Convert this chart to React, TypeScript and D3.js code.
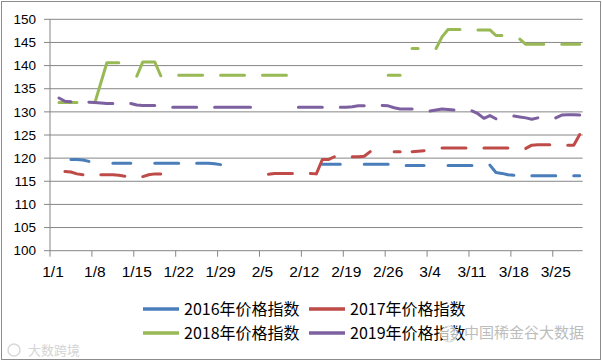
import * as d3 from "d3";
import React from "react";

const _ = null;

// categories are month/day of a leap year, 1/1 .. 3/29
const categories = d3.timeDay
  .range(new Date(2016, 0, 1), new Date(2016, 2, 30))
  .map(d3.timeFormat("%-m/%-d"));

const tickLabels = ["1/1", "1/8", "1/15", "1/22", "1/29", "2/5", "2/12", "2/19", "2/26", "3/4", "3/11", "3/18", "3/25"];
const yTicks = [100, 105, 110, 115, 120, 125, 130, 135, 140, 145, 150];

const seriesNames = ["2016年价格指数", "2017年价格指数", "2018年价格指数", "2019年价格指数"];
const seriesColors = ["#4A7EBB", "#BE4B48", "#98B954", "#7D60A0"];

// one value per category, null = no quote that day
const v2016 = [
  _, _, _, 119.7, 119.7, 119.6, 119.3,
  _, _, _, 118.9, 118.9, 118.9, 118.9,
  _, _, _, 118.9, 118.9, 118.9, 118.9,
  118.9, _, _, 118.9, 118.9, 118.9, 118.8,
  118.6, _, _, _, _, _, _,
  _, _, _, _, _, _, _,
  _, _, _, 118.7, 118.7, 118.7, 118.7,
  _, _, _, 118.7, 118.7, 118.7, 118.7,
  118.7, _, _, 118.4, 118.4, 118.4, 118.4,
  _, _, _, 118.4, 118.4, 118.4, 118.4,
  118.4, _, _, 118.5, 116.9, 116.7, 116.4,
  116.3, _, _, 116.2, 116.2, 116.2, 116.2,
  116.2, _, _, 116.2, 116.2,
];

const v2017 = [
  _, _, 117.1, 117.0, 116.6, 116.4, _,
  _, 116.4, 116.4, 116.4, 116.3, 116.1, _,
  _, 116.0, 116.4, 116.6, 116.6, _, _,
  _, _, _, _, _, _, _,
  _, _, _, _, _, _, _,
  _, 116.5, 116.7, 116.7, 116.7, 116.7, _,
  _, 116.7, 116.6, 119.7, 119.7, 120.3, _,
  _, 120.3, 120.3, 120.4, 121.4, _, _,
  _, 121.4, 121.4, _, 121.4, 121.5, 121.6,
  _, _, 122.2, 122.2, 122.2, 122.2, 122.2,
  _, _, 122.2, 122.2, 122.2, 122.2, 122.2,
  _, _, 122.1, 122.8, 122.9, 122.9, 122.9,
  _, _, 122.8, 122.8, 125.1,
];

const v2018 = [
  _, 132.0, 132.0, 132.0, 132.0, _, _,
  132.0, 136.3, 140.6, 140.6, 140.6, _, _,
  137.7, 140.8, 140.8, 140.8, 137.8, _, _,
  137.9, 137.9, 137.9, 137.9, 137.9, _, _,
  137.9, 137.9, 137.9, 137.9, 137.9, _, _,
  137.9, 137.9, 137.9, 137.9, 137.9, _, _,
  _, _, _, _, _, _, _,
  _, _, _, _, _, _, _,
  137.9, 137.9, 137.9, _, 143.7, 143.7, _,
  _, 143.7, 146.2, 147.8, 147.8, 147.8, _,
  _, 147.7, 147.7, 147.7, 146.5, 146.5, _,
  _, 145.7, 144.6, 144.6, 144.6, 144.6, _,
  _, 144.6, 144.6, 144.6, 144.6,
];

const v2019 = [
  _, 133.0, 132.3, 132.2, _, _, 132.1,
  132.0, 131.9, 131.8, 131.8, _, _, 131.8,
  131.5, 131.4, 131.4, 131.4, _, _, 131.0,
  131.0, 131.0, 131.0, 131.0, _, _, 131.0,
  131.0, 131.0, 131.0, 131.0, 131.0, 131.0, _,
  _, _, _, _, _, _, 131.0,
  131.0, 131.0, 131.0, 131.0, _, _, 131.0,
  131.0, 131.1, 131.3, 131.3, _, _, 131.4,
  131.3, 130.9, 130.6, 130.6, 130.6, _, _,
  130.2, 130.4, 130.6, 130.5, 130.4, _, _,
  130.2, 129.6, 128.6, 129.2, 128.5, _, _,
  129.1, 128.9, 128.7, 128.4, 128.7, _, _,
  128.7, 129.3, 129.4, 129.4, 129.3,
];

const seriesValues = [v2016, v2017, v2018, v2019];

export default function App() {
  const width = 602;
  const height = 362;
  const left = 50, right = 582.7, top = 19.3, bottom = 250.7;

  const x = d3.scaleBand<string>().domain(categories).range([left, right]);
  const y = d3.scaleLinear().domain([100, 150]).range([bottom, top]);
  const cx = (c: string) => (x(c) as number) + x.bandwidth() / 2;

  const line = d3
    .line<number | null>()
    .defined((v) => v != null)
    .x((_v, i) => cx(categories[i]))
    .y((v) => y(v as number));

  const axisColor = "#868686";
  const legendRows = [309, 333];
  const legendCols = [143, 309];

  return (
    <>
      <style>{"body{margin:0}"}</style>
      <svg width={width} height={height} style={{ display: "block", background: "#fff" }}>
        <rect x={1.5} y={1.5} width={599} height={358} fill="#fff" stroke="#8c8c8c" />

        {/* gridlines + y axis */}
        {yTicks.map((t) => (
          <g key={t}>
            <line x1={left} x2={right} y1={y(t)} y2={y(t)} stroke={axisColor} strokeWidth={1} />
            <line x1={left - 6} x2={left} y1={y(t)} y2={y(t)} stroke={axisColor} />
            <text
              x={36}
              y={y(t)}
              dy="0.35em"
              textAnchor="end"
              fontFamily="'Liberation Sans', Arial, sans-serif"
              fontSize={13.5}
              fill="#000"
            >
              {t}
            </text>
          </g>
        ))}
        <line x1={left} x2={left} y1={top} y2={bottom} stroke={axisColor} />

        {/* x axis */}
        {tickLabels.map((lab) => (
          <g key={lab}>
            <line x1={x(lab)} x2={x(lab)} y1={bottom} y2={bottom + 6} stroke={axisColor} />
            <text
              x={cx(lab)}
              y={277}
              textAnchor="middle"
              fontFamily="'Liberation Sans', Arial, sans-serif"
              fontSize={15.5}
              fill="#000"
            >
              {lab}
            </text>
          </g>
        ))}

        {/* series */}
        {seriesValues.map((vals, i) => (
          <path
            key={seriesNames[i]}
            d={line(vals) || ""}
            fill="none"
            stroke={seriesColors[i]}
            strokeWidth={3}
            strokeLinecap="round"
            strokeLinejoin="round"
          />
        ))}

        {/* legend */}
        {seriesNames.map((name, i) => {
          const lx = legendCols[i % 2];
          const ly = legendRows[Math.floor(i / 2)];
          return (
            <g key={name}>
              <line x1={lx} x2={lx + 36} y1={ly} y2={ly} stroke={seriesColors[i]} strokeWidth={3.5} />
              <text
                x={lx + 41}
                y={ly}
                dy="0.36em"
                fontFamily="'Noto Sans CJK SC', sans-serif"
                fontSize={16}
                fill="#000"
              >
                {name}
              </text>
            </g>
          );
        })}

        {/* watermarks */}
        <circle cx={449} cy={334} r={8} fill="#fff" fillOpacity={0.7} stroke="#d6d6d6" />
        <text x={464} y={333} dy="0.36em" fontFamily="'Noto Sans CJK SC', sans-serif" fontSize={15} fill="#bdbdbd">
          中国稀金谷大数据
        </text>
        <circle cx={14} cy={350} r={6} fill="none" stroke="#d8d8d8" strokeWidth={1.5} />
        <text x={28} y={350} dy="0.36em" fontFamily="'Noto Sans CJK SC', sans-serif" fontSize={13} fill="#d4d4d4">
          大数跨境
        </text>
      </svg>
    </>
  );
}
